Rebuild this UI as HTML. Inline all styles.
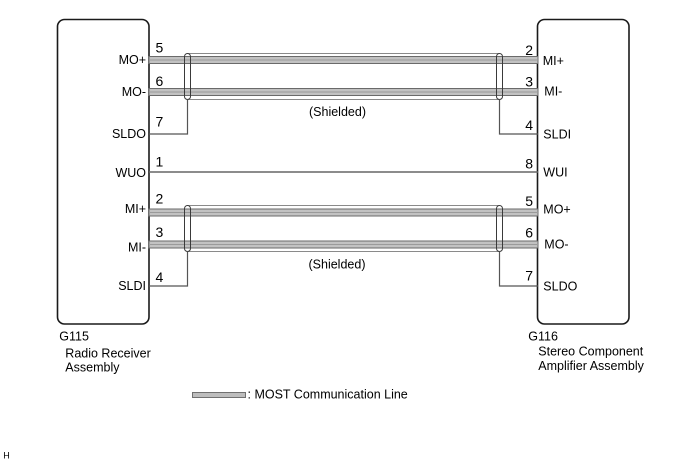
<!DOCTYPE html>
<html><head><meta charset="utf-8"><style>
html,body{margin:0;padding:0;background:#fff;}
svg{display:block;}
text{font-family:"Liberation Sans",Arial,sans-serif;font-size:12.5px;fill:#000;}
text.n{font-size:14px;}
</style></head><body>
<svg width="688" height="463" viewBox="0 0 688 463" xmlns="http://www.w3.org/2000/svg">
<!-- boxes -->
<rect x="57.5" y="19.5" width="91.5" height="304.5" rx="7" fill="none" stroke="#1a1a1a" stroke-width="1.6"/>
<rect x="537.5" y="19.5" width="91.5" height="304.5" rx="7" fill="none" stroke="#1a1a1a" stroke-width="1.6"/>

<!-- shield outer lines -->
<g stroke="#8a8a8a" stroke-width="1" fill="none">
<line x1="187" y1="53.5" x2="499" y2="53.5"/>
<line x1="187" y1="99.5" x2="499" y2="99.5"/>
<line x1="187" y1="205.5" x2="499" y2="205.5"/>
<line x1="187" y1="251.5" x2="499" y2="251.5"/>
</g>

<!-- cables -->
<g fill="#c2c2c2" stroke="#6a6a6a" stroke-width="1">
<rect x="149" y="56.5" width="389" height="7"/>
<rect x="149" y="88.5" width="389" height="7"/>
<rect x="149" y="209" width="389" height="7"/>
<rect x="149" y="241" width="389" height="7"/>
</g>
<g stroke="#9a9a9a" stroke-width="1">
<line x1="149" y1="60" x2="538" y2="60"/>
<line x1="149" y1="92" x2="538" y2="92"/>
<line x1="149" y1="212.5" x2="538" y2="212.5"/>
<line x1="149" y1="244.5" x2="538" y2="244.5"/>
</g>

<!-- ovals -->
<g fill="none" stroke="#3a3a3a" stroke-width="1">
<rect x="184.5" y="53.5" width="6" height="46" rx="3"/>
<rect x="496.5" y="53.5" width="6" height="46" rx="3"/>
<rect x="184.5" y="205.5" width="6" height="46" rx="3"/>
<rect x="496.5" y="205.5" width="6" height="46" rx="3"/>
</g>

<!-- drain wires -->
<g fill="none" stroke="#555" stroke-width="1.2">
<polyline points="149,134 187.5,134 187.5,99.5"/>
<polyline points="538,134 499.5,134 499.5,99.5"/>
<polyline points="149,286 187.5,286 187.5,251.5"/>
<polyline points="538,286 499.5,286 499.5,251.5"/>
</g>
<!-- WUO line -->
<line x1="149" y1="172" x2="538" y2="172" stroke="#666" stroke-width="1.5"/>

<!-- left labels -->
<g text-anchor="end">
<text x="146" y="64">MO+</text>
<text x="146" y="96">MO-</text>
<text x="146" y="138">SLDO</text>
<text x="146" y="177">WUO</text>
<text x="146" y="213">MI+</text>
<text x="146" y="251.5">MI-</text>
<text x="146" y="290">SLDI</text>
</g>
<text class="n" x="155.5" y="52.7">5</text>
<text class="n" x="155.5" y="86">6</text>
<text class="n" x="155.5" y="126.7">7</text>
<text class="n" x="155.5" y="166.7">1</text>
<text class="n" x="155.5" y="203.5">2</text>
<text class="n" x="155.5" y="237">3</text>
<text class="n" x="155.5" y="282">4</text>

<!-- right numbers -->
<g text-anchor="end">
<text class="n" x="533" y="55">2</text>
<text class="n" x="533" y="86.7">3</text>
<text class="n" x="533" y="130">4</text>
<text class="n" x="533" y="168.3">8</text>
<text class="n" x="533" y="206">5</text>
<text class="n" x="533" y="237.3">6</text>
<text class="n" x="533" y="280.7">7</text>
</g>
<text x="542.7" y="65">MI+</text>
<text x="544.3" y="95.7">MI-</text>
<text x="543.3" y="138.3">SLDI</text>
<text x="543.3" y="176.7">WUI</text>
<text x="543.3" y="213.3">MO+</text>
<text x="544.3" y="248.3">MO-</text>
<text x="543.3" y="290.7">SLDO</text>

<text x="309" y="116">(Shielded)</text>
<text x="308.5" y="268.5">(Shielded)</text>

<!-- component names -->
<text x="59.3" y="340.7">G115</text>
<text x="65.3" y="357.7">Radio Receiver</text>
<text x="65.3" y="371.7">Assembly</text>
<text x="528.3" y="340.7">G116</text>
<text x="538.3" y="355.7">Stereo Component</text>
<text x="538.3" y="370">Amplifier Assembly</text>

<!-- legend -->
<rect x="192.5" y="392.5" width="53" height="5" fill="#bdbdbd" stroke="#707070" stroke-width="1"/>
<text x="247.5" y="398.3">: MOST Communication Line</text>

<text x="3.3" y="458.3" style="font-size:9px">H</text>
</svg>
</body></html>
